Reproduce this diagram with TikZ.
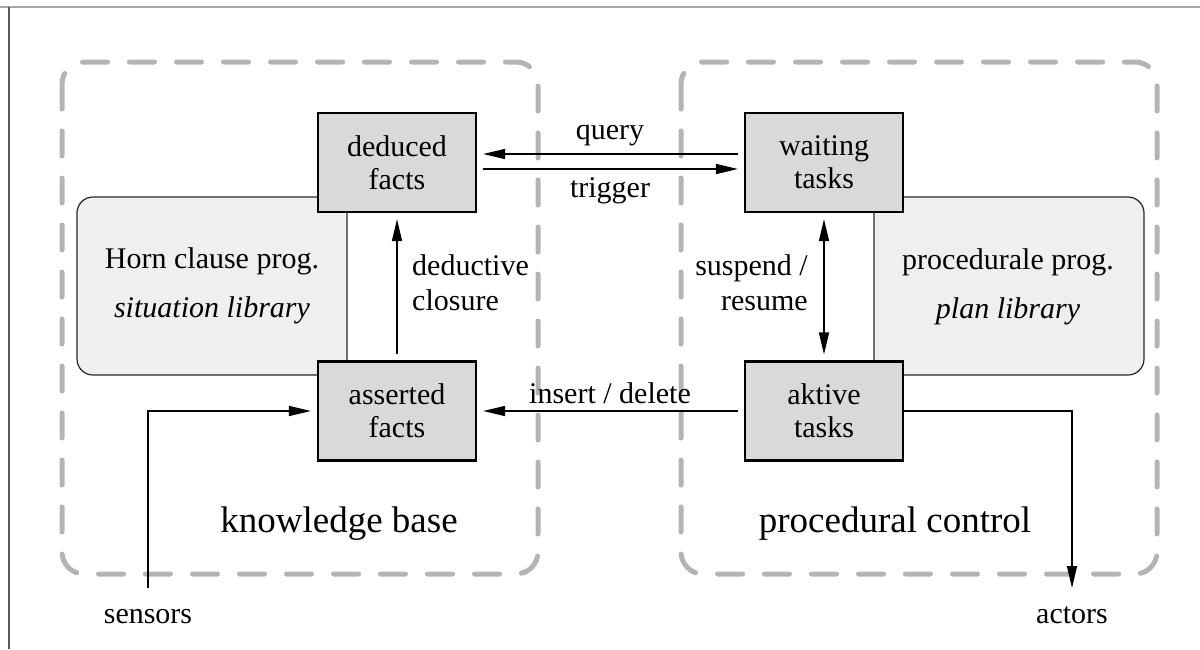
\documentclass[tikz,border=0pt]{standalone}
\usepackage{fontspec}
\setmainfont{Liberation Serif}
\usetikzlibrary{arrows.meta,calc}
\definecolor{boxgray}{HTML}{D9D9D9}
\definecolor{libgray}{HTML}{EFEFEF}
\definecolor{dashgray}{HTML}{B4B4B4}
\begin{document}
\begin{tikzpicture}[x=1pt,y=-1pt,
  every node/.style={font=\fontsize{30}{33}\selectfont, inner sep=0pt},
  fact/.style={draw, line width=2.2pt, fill=boxgray, minimum width=158pt, minimum height=99pt, align=center},
  lib/.style={draw=black!85, line width=1.2pt, fill=libgray, rounded corners=16pt},
  group/.style={draw=dashgray, line width=5pt, dash pattern=on 25pt off 22pt, line cap=round, rounded corners=22pt},
  arr/.style={line width=1.4pt, -{Triangle[length=22pt,width=10pt]}},
  dblarr/.style={line width=1.4pt, {Triangle[length=22pt,width=10pt]}-{Triangle[length=22pt,width=10pt]}},
  big/.style={font=\fontsize{37}{40}\selectfont}
]
\useasboundingbox (0,0) rectangle (1200,649);
% frame
\draw[black!35, line width=1.5pt] (0,7) -- (1200,7);
\draw[black!65, line width=1.5pt] (9,7) -- (9,649);
% groups
\draw[group] (62,62) rectangle (538,574);
\draw[group] (681,62) rectangle (1157,574);
% libraries
\draw[lib] (77,197) rectangle (347,375);
\draw[lib] (874,197) rectangle (1144,375);
\node[anchor=base] (horn) at (212,268) {Horn clause prog.};
\node[anchor=base] (sitlib) at (212,317) {\itshape situation library};
\node[anchor=base] (procprog) at (1008,269) {procedurale prog.};
\node[anchor=base] (planlib) at (1008,318) {\itshape plan library};
% fact / task boxes
\node[fact] (ded) at (397,162.5) {deduced\\facts};
\node[fact] (ass) at (397,411) {asserted\\facts};
\node[fact] (wait) at (824,162.5) {waiting\\tasks};
\node[fact] (akt) at (824,411) {aktive\\tasks};
% connectors
\draw[arr] ($(wait.west)+(-6,-8.5)$) -- ($(ded.east)+(6,-8.5)$);
\draw[arr] ($(ded.east)+(6,6.5)$) -- ($(wait.west)+(-6,6.5)$);
\draw[arr] ($(ass.north)+(0,-6)$) -- ($(ded.south)+(0,6)$);
\draw[dblarr] ($(wait.south)+(0,6)$) -- ($(akt.north)+(0,-6)$);
\draw[arr] ($(akt.west)+(-6,0)$) -- ($(ass.east)+(6,0)$);
\coordinate (sensend) at (148,588);
\coordinate (actend) at (1072,588);
\draw[arr] (sensend) |- ($(ass.west)+(-6,0)$);
\draw[arr] (akt.east) -| (actend);
% labels
\node[anchor=base] (query) at (610,139) {query};
\node[anchor=base] (trigger) at (610,197) {trigger};
\node[anchor=base west] (ded1) at (412,275) {deductive};
\node[anchor=base west] (ded2) at (412,310) {closure};
\node[anchor=base east] (sus1) at (808,275) {suspend /};
\node[anchor=base east] (sus2) at (808,310) {resume};
\node[anchor=base] (insdel) at (610,403) {insert / delete};
\node[anchor=base] (sensors) at (148,623) {sensors};
\node[anchor=base] (actors) at (1072,623) {actors};
\node[big, anchor=base] (kb) at (339,532) {knowledge base};
\node[big, anchor=base] (pc) at (895,532) {procedural control};
\end{tikzpicture}
\end{document}
